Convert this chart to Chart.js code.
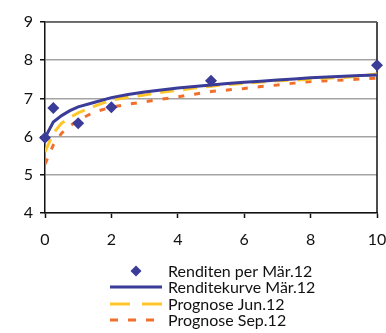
<!DOCTYPE html>
<html lang="de">
  <head>
    <meta charset="UTF-8" />
    <script src="https://cdn.jsdelivr.net/npm/chart.js"></script>
    <title>Renditekurve</title>
    <style>
      body { margin: 0; background: #fff; }
      #wrap { width: 386px; height: 333px; position: relative; }
    </style>
  </head>
  <body>
    <div id="wrap"><canvas id="chart"></canvas></div>
  </body>
</html>
<script>
  // Renditen per Mär.12 (Stichtage, Laufzeit in Jahren)
  const obsX = [0, 0.25, 1, 2, 5, 10];
  const obsY = [5.97, 6.75, 6.35, 6.77, 7.46, 7.87];

  // Laufzeiten der Kurven
  const curveX = [0, 0.25, 0.5, 0.75, 1, 1.5, 2, 2.5, 3, 3.5, 4, 4.5, 5, 5.5, 6, 6.5, 7, 7.5, 8, 8.5, 9, 9.5, 10];
  const kurveMar = [5.97, 6.38, 6.55, 6.68, 6.78, 6.9, 7.02, 7.1, 7.17, 7.22, 7.27, 7.31, 7.35, 7.39, 7.42, 7.45, 7.48, 7.51, 7.54, 7.56, 7.58, 7.6, 7.61];
  const prognoseJun = [5.6, 6.09, 6.35, 6.5, 6.62, 6.8, 6.96, 7.03, 7.09, 7.16, 7.21, 7.27, 7.32, 7.36, 7.39, 7.43, 7.46, 7.48, 7.5, 7.53, 7.55, 7.59, 7.64];
  const prognoseSep = [5.28, 5.78, 6.09, 6.28, 6.43, 6.65, 6.77, 6.85, 6.91, 6.98, 7.04, 7.11, 7.18, 7.22, 7.26, 7.31, 7.35, 7.4, 7.44, 7.46, 7.48, 7.51, 7.53];

  const xTicks = [0, 2, 4, 6, 8, 10];
  const yTicks = [4, 5, 6, 7, 8, 9];
  const labels = ["Renditen per Mär.12", "Renditekurve Mär.12", "Prognose Jun.12", "Prognose Sep.12"];

  const FONT = "Lato";

  function toPoints(xs, ys) {
    return xs.map((x, i) => ({ x: x, y: ys[i] }));
  }

  // frame on top and right of the plot
  const framePlugin = {
    id: "frame",
    beforeDatasetsDraw(chart) {
      const { ctx, chartArea: a } = chart;
      ctx.save();
      ctx.strokeStyle = "#111";
      ctx.lineWidth = 1.5;
      ctx.beginPath();
      ctx.moveTo(a.right, a.top);
      ctx.lineTo(a.right, a.bottom);
      ctx.stroke();
      ctx.strokeStyle = "#555";
      ctx.beginPath();
      ctx.moveTo(a.left, a.top);
      ctx.lineTo(a.right, a.top);
      ctx.stroke();
      ctx.restore();
    },
  };

  // legend stacked under the chart, left aligned
  const legendPlugin = {
    id: "stackLegend",
    afterDraw(chart) {
      const ctx = chart.ctx;
      const rows = [271, 287, 304, 320];
      const x0 = 110, x1 = 162, tx = 168;
      ctx.save();
      chart.data.datasets.forEach((ds, i) => {
        const y = rows[i];
        if (ds.showLine === false) {
          ctx.fillStyle = ds.backgroundColor;
          const r = 5.5, cx = (x0 + x1) / 2;
          ctx.beginPath();
          ctx.moveTo(cx, y - r);
          ctx.lineTo(cx + r, y);
          ctx.lineTo(cx, y + r);
          ctx.lineTo(cx - r, y);
          ctx.closePath();
          ctx.fill();
        } else {
          ctx.strokeStyle = ds.borderColor;
          ctx.lineWidth = ds.borderWidth;
          ctx.setLineDash(ds.legendDash || []);
          ctx.beginPath();
          ctx.moveTo(x0, y);
          ctx.lineTo(x1, y);
          ctx.stroke();
          ctx.setLineDash([]);
        }
        ctx.fillStyle = "#111";
        ctx.font = "16px " + FONT;
        ctx.textBaseline = "middle";
        ctx.fillText(ds.label, tx, y + 1);
      });
      ctx.restore();
    },
  };

  new Chart(document.getElementById("chart"), {
    type: "scatter",
    data: {
      datasets: [
        {
          label: labels[0],
          data: toPoints(obsX, obsY),
          showLine: false,
          pointStyle: "rectRot",
          pointRadius: 6,
          backgroundColor: "#3b3b98",
          borderColor: "#3b3b98",
          borderWidth: 0,
          clip: false,
        },
        {
          label: labels[1],
          data: toPoints(curveX, kurveMar),
          showLine: true,
          pointRadius: 0,
          borderColor: "#3b3b98",
          borderWidth: 3,
          tension: 0,
        },
        {
          label: labels[2],
          data: toPoints(curveX, prognoseJun),
          showLine: true,
          pointRadius: 0,
          borderColor: "#ffc629",
          borderWidth: 3,
          borderDash: [14, 9],
          legendDash: [20, 12],
          tension: 0,
        },
        {
          label: labels[3],
          data: toPoints(curveX, prognoseSep),
          showLine: true,
          pointRadius: 0,
          borderColor: "#f26f2b",
          borderWidth: 3,
          borderDash: [6, 10],
          legendDash: [8, 10],
          tension: 0,
        },
      ],
    },
    options: {
      responsive: true,
      maintainAspectRatio: false,
      animation: false,
      layout: { padding: { top: 22, right: 0, bottom: 80, left: 0 } },
      plugins: {
        legend: { display: false },
        tooltip: { enabled: false },
      },
      scales: {
        x: {
          type: "linear",
          min: 0,
          max: 10,
          afterBuildTicks: (axis) => { axis.ticks = xTicks.map((v) => ({ value: v })); },
          afterFit: (axis) => {
            axis.height = 40;
            axis.paddingRight = 9;
            axis.paddingLeft = 0;
          },
          ticks: { color: "#111", font: { family: FONT, size: 16 }, padding: 12, maxRotation: 0 },
          grid: { drawOnChartArea: false, tickLength: 5, tickColor: "#111", tickWidth: 1.5 },
          border: { color: "#111", width: 1.5 },
        },
        y: {
          type: "linear",
          min: 4,
          max: 9,
          afterBuildTicks: (axis) => { axis.ticks = yTicks.map((v) => ({ value: v })); },
          afterFit: (axis) => { axis.width = 45; },
          ticks: { color: "#111", font: { family: FONT, size: 16 }, padding: 7 },
          grid: { color: "#a3a3a3", lineWidth: 1.5, tickLength: 5, tickColor: "#111", tickWidth: 1.5 },
          border: { color: "#111", width: 1.5 },
        },
      },
    },
    plugins: [framePlugin, legendPlugin],
  });
</script>
